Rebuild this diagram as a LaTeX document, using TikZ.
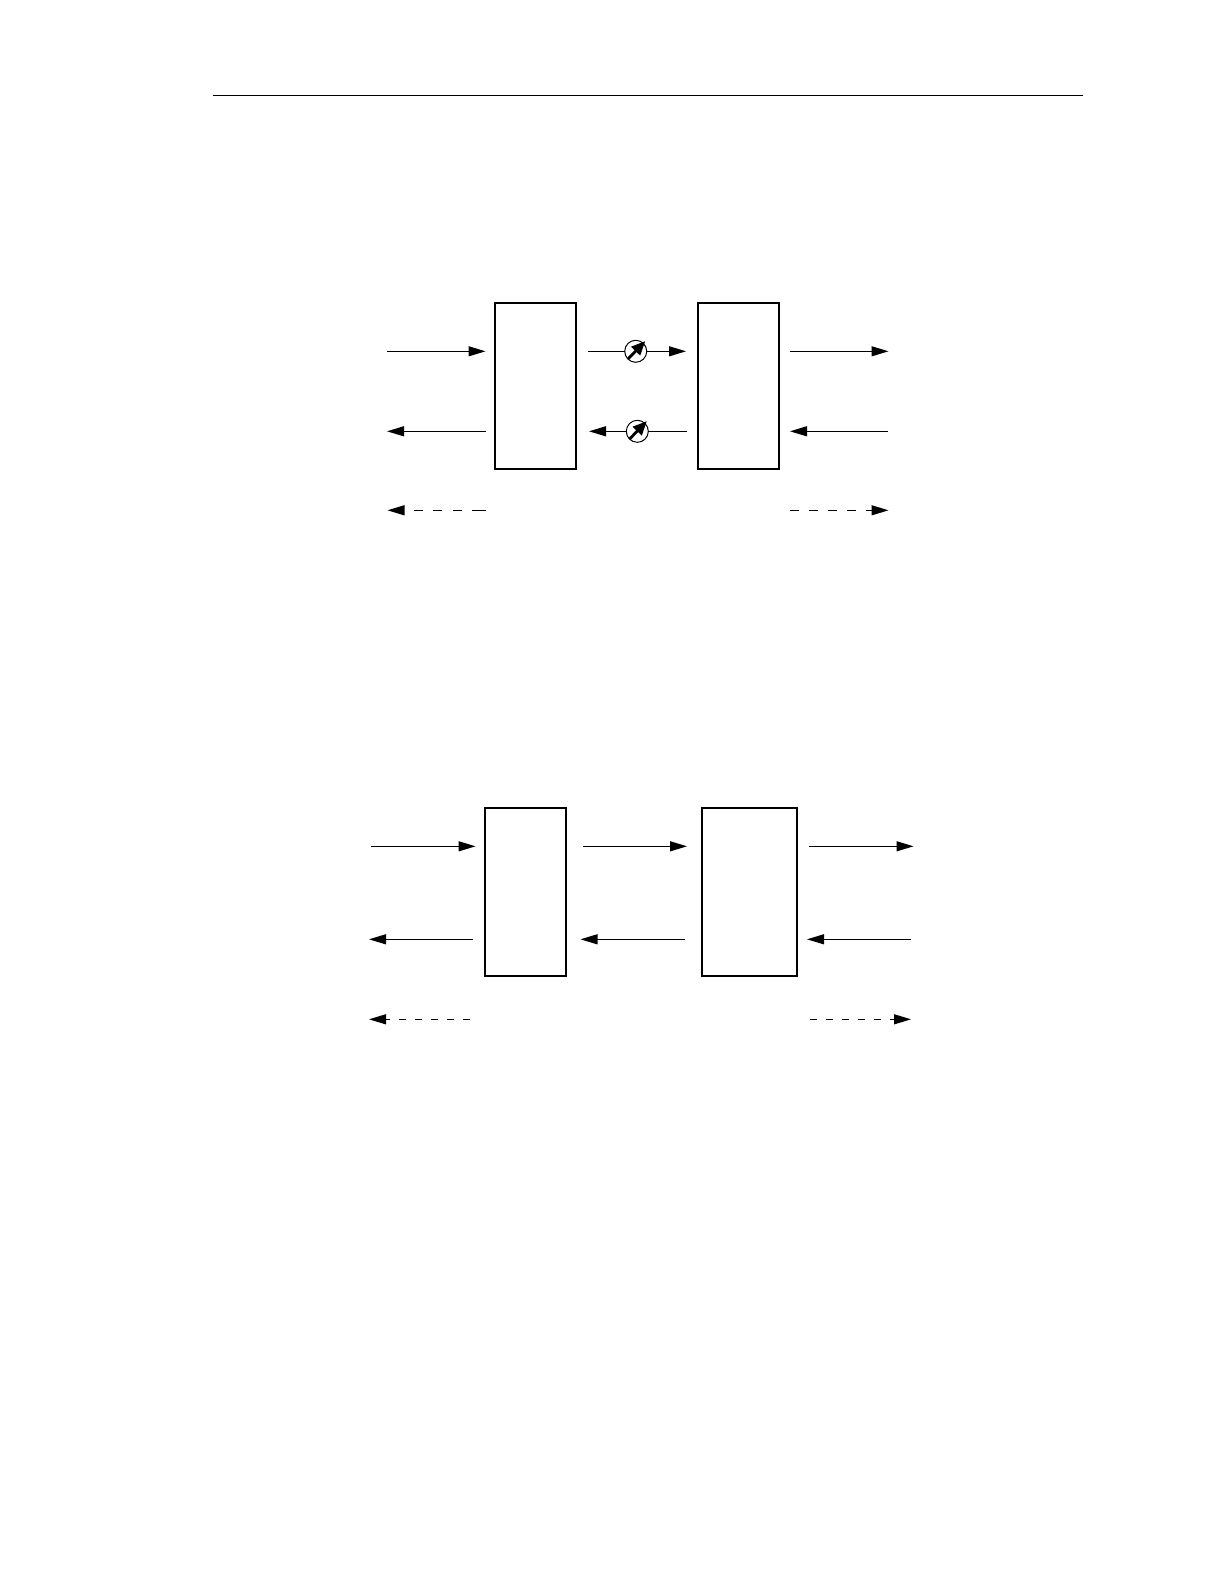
\documentclass[tikz,border=0pt]{standalone}
\usetikzlibrary{arrows.meta}
\tikzset{
  box/.style={draw,line width=1pt,rectangle,inner sep=0pt,outer sep=0pt},
  conn/.style={line width=0.6pt,-{Triangle[length=8.5pt,width=5pt]}},
  plainconn/.style={line width=0.6pt},
  dconnU/.style={conn,dash pattern=on 4.4pt off 5.1pt},
  dconnUL/.style={conn,dash pattern=on 6.6pt off 5.4pt on 4.4pt off 5.3pt on 4.4pt off 5.3pt on 4.4pt off 20pt},
  dconnL/.style={conn,dash pattern=on 3.7pt off 4.3pt},
  gauge/.style={draw,circle,line width=0.5pt,fill=white,inner sep=0pt,outer sep=0pt,minimum size=11pt},
  needle/.style={line width=1.4pt,shorten >=-1.5pt,-{Triangle[length=7pt,width=6pt]}},
  rule/.style={line width=0.6pt}
}
\begin{document}
\begin{tikzpicture}[x=0.5pt,y=-0.5pt]
\path[use as bounding box,fill=white] (0,0) rectangle (1224,1584);
% header rule
\coordinate (r1) at (213,95.5);
\coordinate (r2) at (1083,95.5);
\draw[rule] (r1) -- (r2);

% upper diagram
\node[box,minimum width=40.5pt,minimum height=83pt] (A) at (535.5,386) {};
\node[box,minimum width=40.5pt,minimum height=83pt] (B) at (738.5,386) {};
\node[gauge] (g1) at (635.7,351.3) {};
\node[gauge] (g2) at (637.3,431.3) {};
\coordinate (a1) at (387,351.3);  \coordinate (a2) at (485.5,351.3);
\coordinate (a3) at (485.5,431.3);\coordinate (a4) at (387,431.3);
\coordinate (a5) at (485.5,510.3);\coordinate (a6) at (387.5,510.3);
\coordinate (m1) at (588,351.3);  \coordinate (m2) at (686,351.3);
\coordinate (m3) at (687,431.3);  \coordinate (m4) at (589,431.3);
\coordinate (b1) at (790,351.3);  \coordinate (b2) at (888.5,351.3);
\coordinate (b3) at (888,431.3);  \coordinate (b4) at (790,431.3);
\coordinate (b5) at (790,510.3);  \coordinate (b6) at (888.5,510.3);
\draw[conn] (a1) -- (a2);
\draw[conn] (a3) -- (a4);
\draw[dconnUL] (a5) -- (a6);
\draw[plainconn] (m1) -- (g1);
\draw[conn] (g1) -- (m2);
\draw[plainconn] (m3) -- (g2);
\draw[conn] (g2) -- (m4);
\draw[conn] (b1) -- (b2);
\draw[conn] (b3) -- (b4);
\draw[dconnU] (b5) -- (b6);
\draw[needle] (g1.225) -- (g1.47);
\draw[needle] (g2.225) -- (g2.47);

% lower diagram
\node[box,minimum width=40.5pt,minimum height=84pt] (C) at (525.5,891.7) {};
\node[box,minimum width=47.6pt,minimum height=84pt] (D) at (749.3,891.7) {};
\coordinate (c1) at (371,846.3);  \coordinate (c2) at (475.5,846.3);
\coordinate (c3) at (473,939.3);  \coordinate (c4) at (369,939.3);
\coordinate (c5) at (470,1019.3); \coordinate (c6) at (369,1019.3);
\coordinate (n1) at (583,846.3);  \coordinate (n2) at (687,846.3);
\coordinate (n3) at (685,939.3);  \coordinate (n4) at (580.5,939.3);
\coordinate (d1) at (809,846.3);  \coordinate (d2) at (913.5,846.3);
\coordinate (d3) at (910.7,939.3);\coordinate (d4) at (807,939.3);
\coordinate (d5) at (810,1019.3); \coordinate (d6) at (911,1019.3);
\draw[conn] (c1) -- (c2);
\draw[conn] (c3) -- (c4);
\draw[dconnL] (c5) -- (c6);
\draw[conn] (n1) -- (n2);
\draw[conn] (n3) -- (n4);
\draw[conn] (d1) -- (d2);
\draw[conn] (d3) -- (d4);
\draw[dconnL] (d5) -- (d6);
\end{tikzpicture}
\end{document}
